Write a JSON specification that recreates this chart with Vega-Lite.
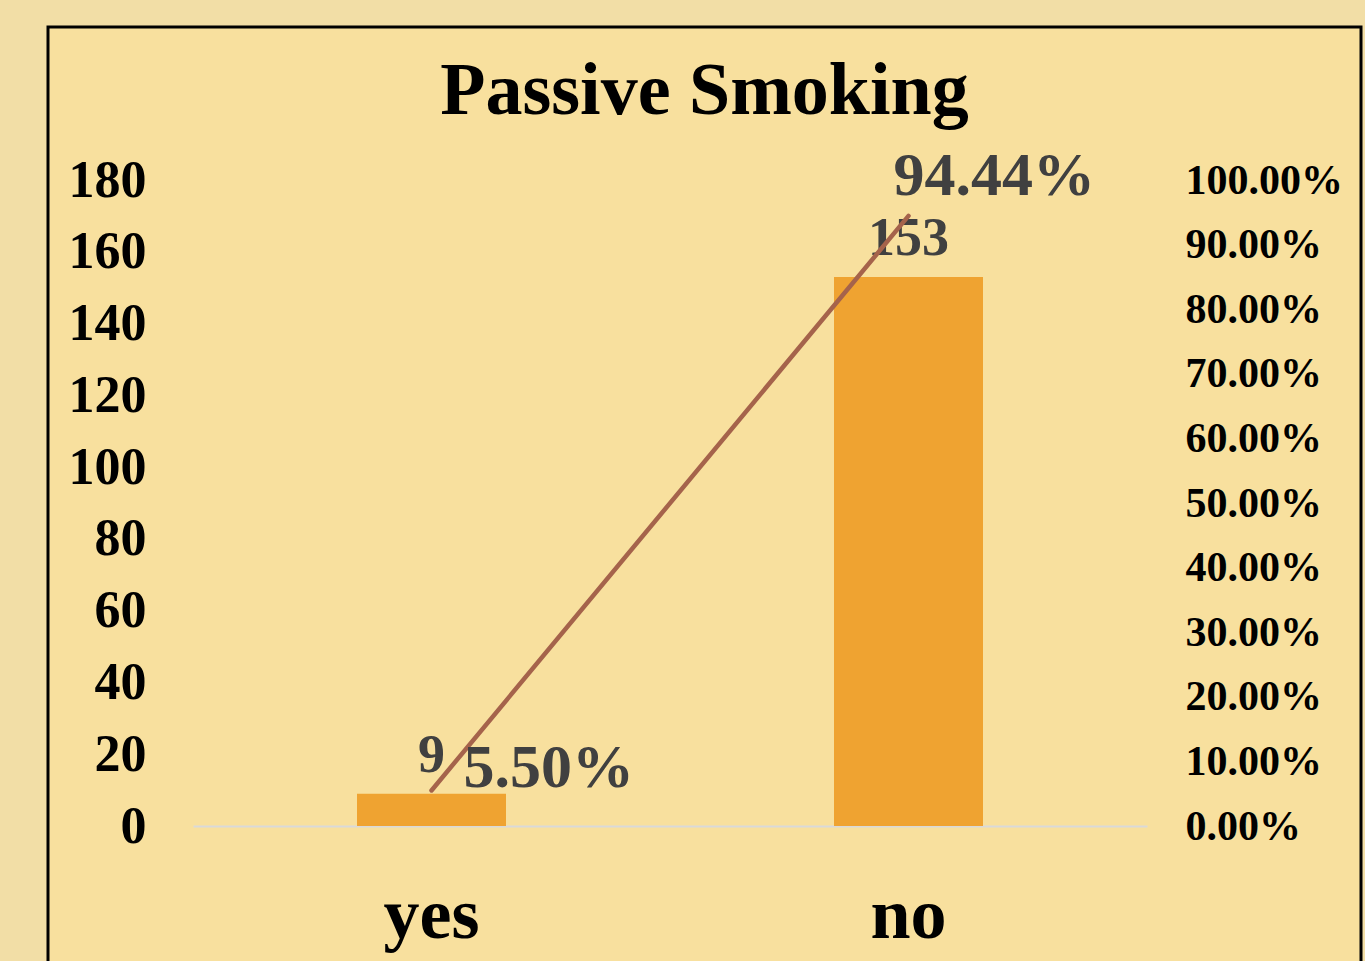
{
  "$schema": "https://vega.github.io/schema/vega-lite/v6.json",
  "width": 1313,
  "height": 960,
  "autosize": {"type": "none"},
  "padding": {"left": 48, "top": 27, "right": 4, "bottom": 0},
  "background": "#F2DEA6",
  "config": {
    "view": {"fill": "#F8E09E", "stroke": "#000000", "strokeWidth": 3},
    "font": "Liberation Serif"
  },
  "title": {
    "text": "Passive Smoking",
    "font": "Liberation Serif",
    "fontSize": 74,
    "fontWeight": "bold",
    "color": "#000000",
    "anchor": "middle",
    "frame": "group",
    "baseline": "alphabetic",
    "offset": 0,
    "dy": 161
  },
  "data": {
    "values": [
      {"cat": "yes", "count": 9, "pct": 0.055},
      {"cat": "no", "count": 153, "pct": 0.9444}
    ]
  },
  "encoding": {
    "x": {
      "field": "cat",
      "type": "nominal",
      "sort": ["yes", "no"],
      "scale": {"domain": ["yes", "no"], "range": [145, 1099], "paddingInner": 0.688, "paddingOuter": 0.344},
      "axis": {
        "title": null,
        "orient": "bottom",
        "offset": -161,
        "domainColor": "#D9D9D9",
        "domainWidth": 2,
        "ticks": false,
        "tickSize": 0,
        "labelPadding": 111,
        "labelBaseline": "alphabetic",
        "labelAngle": 0,
        "labelFont": "Liberation Serif",
        "labelFontSize": 72,
        "labelFontWeight": "bold",
        "labelColor": "#000000",
        "grid": false
      }
    }
  },
  "layer": [
    {
      "encoding": {
        "y": {
          "field": "count",
          "type": "quantitative",
          "scale": {"domain": [0, 180], "range": [799, 153], "nice": false, "zero": true},
          "axis": {
            "title": null,
            "orient": "left",
            "offset": -100,
            "values": [0, 20, 40, 60, 80, 100, 120, 140, 160, 180],
            "domain": false,
            "ticks": false,
            "tickSize": 0,
            "grid": false,
            "labelPadding": 2,
            "labelFont": "Liberation Serif",
            "labelFontSize": 52,
            "labelFontWeight": "bold",
            "labelColor": "#000000"
          }
        }
      },
      "layer": [
        {"mark": {"type": "bar", "color": "#EFA331", "size": 149}},
        {
          "mark": {"type": "text", "baseline": "alphabetic", "align": "center", "dy": -22, "font": "Liberation Serif", "fontSize": 54, "fontWeight": "bold", "color": "#404040"},
          "encoding": {"text": {"field": "count", "type": "quantitative"}}
        }
      ]
    },
    {
      "encoding": {
        "y": {
          "field": "pct",
          "type": "quantitative",
          "scale": {"domain": [0, 1], "range": [799, 153], "nice": false, "zero": true},
          "axis": {
            "title": null,
            "orient": "right",
            "offset": -178,
            "values": [0, 0.1, 0.2, 0.3, 0.4, 0.5, 0.6, 0.7, 0.8, 0.9, 1],
            "format": ".2%",
            "domain": false,
            "ticks": false,
            "tickSize": 0,
            "grid": false,
            "labelPadding": 2,
            "labelFont": "Liberation Serif",
            "labelFontSize": 42,
            "labelFontWeight": "bold",
            "labelColor": "#000000"
          }
        }
      },
      "layer": [
        {"mark": {"type": "line", "color": "#A5634B", "strokeWidth": 4.5, "strokeCap": "round"}},
        {
          "transform": [{"filter": "datum.cat === 'yes'"}],
          "mark": {"type": "text", "baseline": "alphabetic", "align": "left", "dx": 32, "dy": -3, "font": "Liberation Serif", "fontSize": 62, "fontWeight": "bold", "color": "#404040"},
          "encoding": {"text": {"field": "pct", "type": "quantitative", "format": ".2%"}}
        },
        {
          "transform": [{"filter": "datum.cat === 'no'"}],
          "mark": {"type": "text", "baseline": "alphabetic", "align": "left", "dx": -15, "dy": -21, "font": "Liberation Serif", "fontSize": 62, "fontWeight": "bold", "color": "#404040"},
          "encoding": {"text": {"field": "pct", "type": "quantitative", "format": ".2%"}}
        }
      ]
    }
  ],
  "resolve": {"scale": {"y": "independent"}}
}
